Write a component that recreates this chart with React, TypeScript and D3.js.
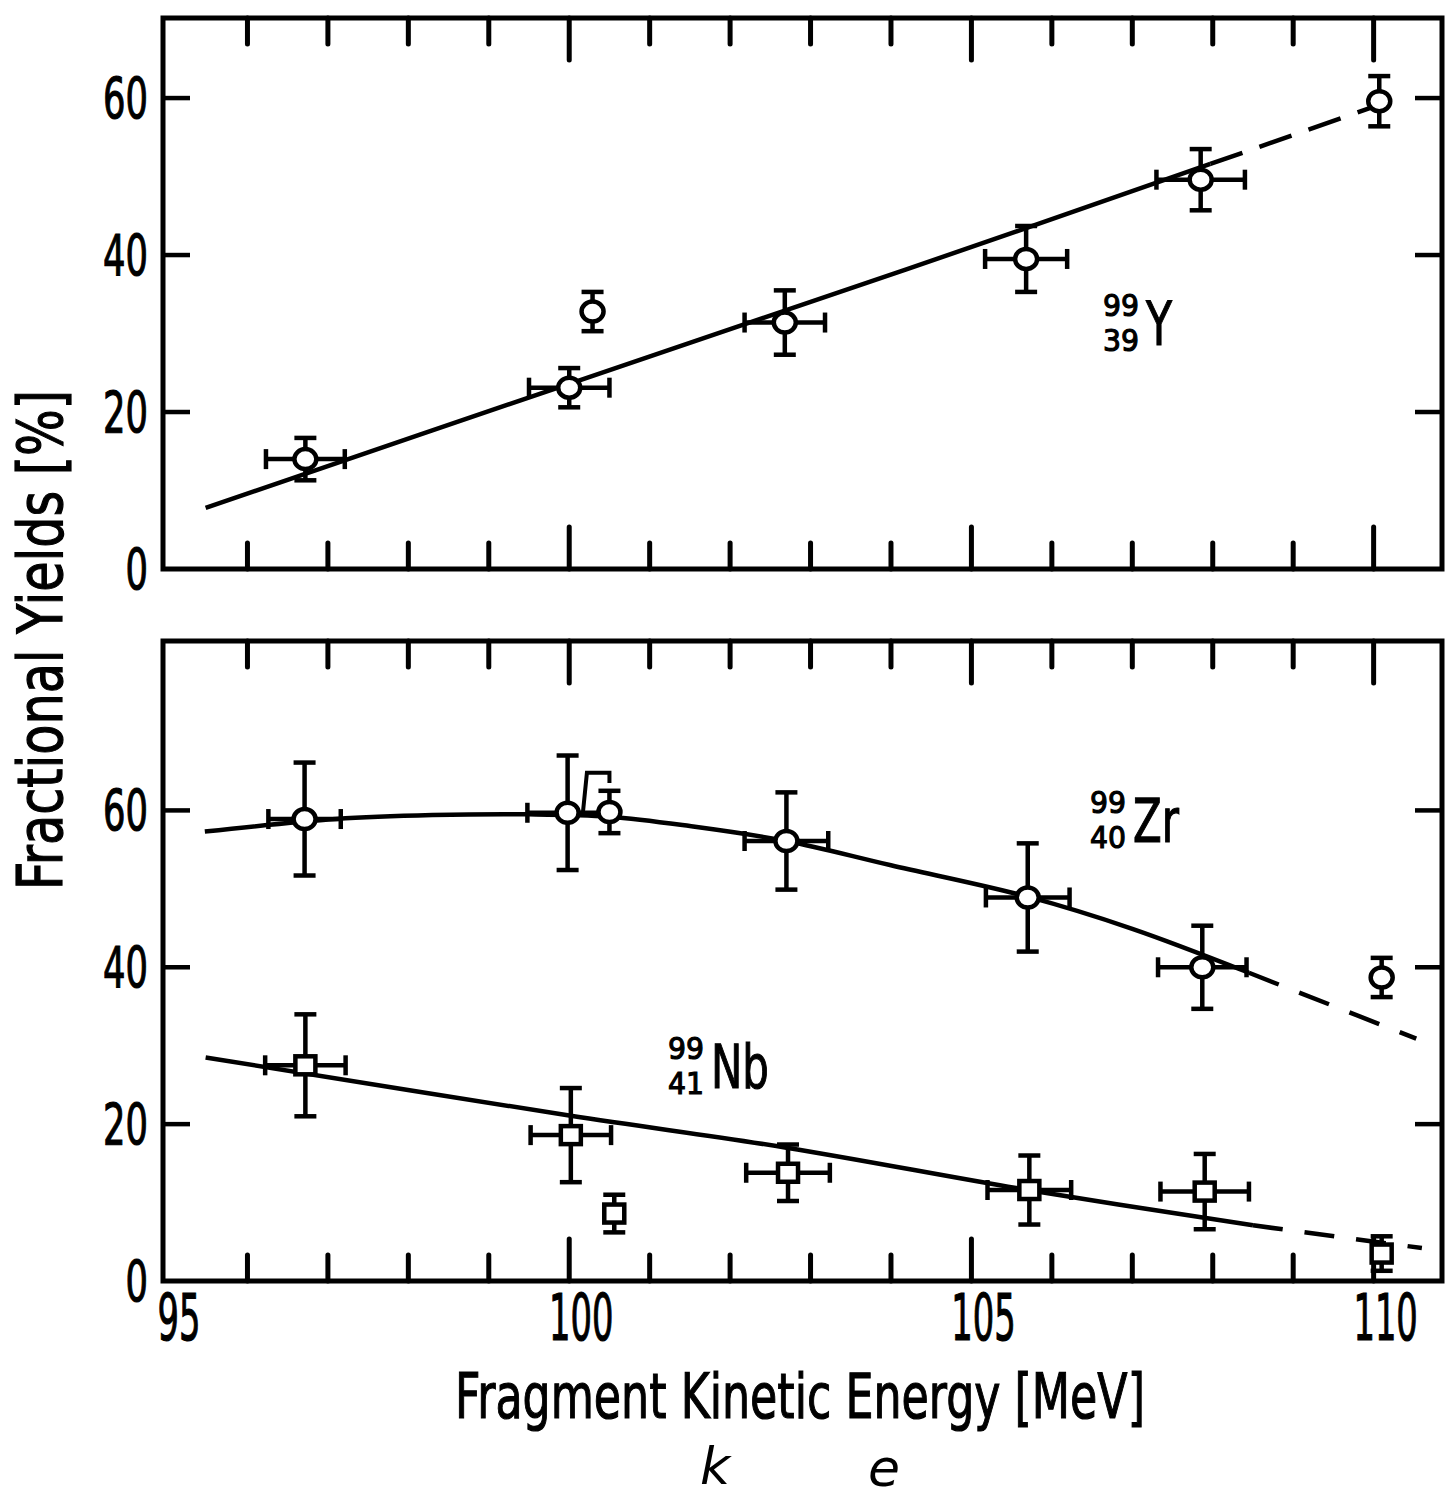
import React, { useEffect, useRef } from "react";
import * as d3 from "d3";

// Fragment kinetic energy [MeV] and fractional yields [%]
const yEnergy = [96.72, 100.0, 100.29, 102.68, 105.68, 107.85, 110.07];
const yYield = [14.0, 23.1, 32.8, 31.4, 39.5, 49.6, 59.6];
const yYieldErr = [2.7, 2.5, 2.5, 4.1, 4.2, 3.9, 3.2];
const yEnergyErr = [0.49, 0.5, 0, 0.5, 0.51, 0.55, 0];
const yFitSolid = [[95.48, 7.8], [100, 23.6], [104.2, 38.2], [107.97, 51.6]];
const yFitDashed = [[107.97, 51.6], [110.2, 59.6]];

const zrEnergy = [96.71, 99.98, 100.5, 102.7, 105.7, 107.87, 110.1];
const zrYield = [58.9, 59.7, 59.8, 56.1, 48.9, 40.0, 38.7];
const zrYieldErr = [7.2, 7.3, 2.7, 6.2, 6.9, 5.3, 2.5];
const zrEnergyErr = [0.45, 0.5, 0, 0.52, 0.52, 0.55, 0];
const zrFitSolid = [
  [95.47, 57.3], [97.1, 58.9], [98.3, 59.4], [99.5, 59.5], [100.5, 59.2],
  [101.5, 58.0], [102.7, 56.1], [104, 53.0], [105.7, 49.0], [107, 44.9], [108.45, 39.3],
];
const zrFitDashed = [[108.45, 39.3], [110.53, 30.9]];
// stray bracket drawn between the two points near 100 MeV
const zrBracket = [[100.17, 59.7], [100.22, 64.8], [100.5, 64.8], [100.5, 63.5]];

const nbEnergy = [96.72, 100.02, 100.56, 102.72, 105.72, 107.9, 110.1];
const nbYield = [27.5, 18.6, 8.6, 13.8, 11.6, 11.4, 3.5];
const nbYieldErr = [6.5, 6.0, 2.4, 3.6, 4.4, 4.8, 2.2];
const nbEnergyErr = [0.5, 0.5, 0, 0.52, 0.52, 0.55, 0];
const nbFitSolid = [[95.48, 28.5], [100, 21.1], [102.7, 17.0], [105.7, 11.6], [108.5, 7.1]];
const nbFitDashed = [[108.5, 7.1], [110.6, 4.2]];

const energyLabels = [95, 100, 105, 110];
const energyMajor = [100, 105, 110];
const energyMinor = [96, 97, 98, 99, 101, 102, 103, 104, 106, 107, 108, 109];
const yieldTicks = [20, 40, 60];
const yieldLabels = [0, 20, 40, 60];

const FONT = "'DejaVu Sans', sans-serif";

function App() {
  const ref = useRef(null);

  useEffect(() => {
    document.body.style.margin = "0";
    const svg = d3.select(ref.current);
    svg.selectAll("*").remove();

    const x = d3.scaleLinear().domain([94.95, 110.85]).range([163, 1442]);
    const yTop = d3.scaleLinear().domain([0, 70.2]).range([569, 18]);
    const yBot = d3.scaleLinear().domain([0, 81.6]).range([1281, 641]);

    /** Condensed lettering: squeeze a text horizontally to the wanted width. */
    function narrowText(parent, tx, ty, str, size, width, anchor = "start", rotate = 0) {
      const t = parent.append("text")
        .attr("font-family", FONT).attr("font-size", size)
        .attr("stroke", "#000").attr("stroke-width", 1.2)
        .attr("text-anchor", anchor)
        .text(str);
      const natural = t.node().getComputedTextLength();
      const sx = width / natural;
      t.attr("transform", "translate(" + tx + "," + ty + ") rotate(" + rotate + ") scale(" + sx + ",1)");
      return t;
    }

    // Frame, ticks and tick labels of one panel
    function drawPanel(y, showXLabels) {
      const g = svg.append("g");
      const [y0, y1] = y.range();
      const x0 = x.range()[0], x1 = x.range()[1];
      g.append("rect")
        .attr("x", x0).attr("y", y1)
        .attr("width", x1 - x0).attr("height", y0 - y1)
        .attr("fill", "none").attr("stroke", "#000").attr("stroke-width", 5);

      const ticks = energyMinor.map((v) => [v, 26]).concat(energyMajor.map((v) => [v, 42]));
      ticks.forEach(([v, len]) => {
        g.append("line")
          .attr("x1", x(v)).attr("x2", x(v))
          .attr("y1", y1).attr("y2", y1 + len)
          .attr("stroke", "#000").attr("stroke-width", 5).attr("stroke-linecap", "round");
        g.append("line")
          .attr("x1", x(v)).attr("x2", x(v))
          .attr("y1", y0).attr("y2", y0 - len)
          .attr("stroke", "#000").attr("stroke-width", 5).attr("stroke-linecap", "round");
      });

      yieldTicks.forEach((v) => {
        g.append("line")
          .attr("x1", x0).attr("x2", x0 + 27)
          .attr("y1", y(v)).attr("y2", y(v))
          .attr("stroke", "#000").attr("stroke-width", 4.5);
        g.append("line")
          .attr("x1", x1).attr("x2", x1 - 27)
          .attr("y1", y(v)).attr("y2", y(v))
          .attr("stroke", "#000").attr("stroke-width", 4.5);
      });

      yieldLabels.forEach((v) => {
        const s = String(v);
        narrowText(g, 148, y(v) + 21, s, 57, s.length * 22.5, "end");
      });

      if (showXLabels) {
        energyLabels.forEach((v) => {
          const s = String(v);
          narrowText(g, x(v) + 12, 1340, s, 64, s.length * 21.5, "middle");
        });
      }
    }

    // Fit curve through hand-read points
    function drawFit(y, solid, dashed, dash) {
      const line = d3.line().x((d) => x(d[0])).y((d) => y(d[1])).curve(d3.curveCatmullRom);
      svg.append("path").attr("d", line(solid))
        .attr("fill", "none").attr("stroke", "#000").attr("stroke-width", 4.5);
      svg.append("path").attr("d", line(dashed))
        .attr("fill", "none").attr("stroke", "#000").attr("stroke-width", 4.5)
        .attr("stroke-dasharray", dash);
    }

    // Data points with error bars; shape "circle" or "square"
    function drawPoints(y, ex, ey, exErr, eyErr, shape) {
      const g = svg.append("g").attr("stroke", "#000").attr("stroke-width", 4.5);
      ex.forEach((e, i) => {
        const cx = x(e), cy = y(ey[i]);
        const top = y(ey[i] + eyErr[i]), bot = y(ey[i] - eyErr[i]);
        g.append("line").attr("x1", cx).attr("x2", cx).attr("y1", top).attr("y2", bot);
        g.append("line").attr("x1", cx - 11).attr("x2", cx + 11).attr("y1", top).attr("y2", top);
        g.append("line").attr("x1", cx - 11).attr("x2", cx + 11).attr("y1", bot).attr("y2", bot);
        if (exErr[i] > 0) {
          const l = x(e - exErr[i]), r = x(e + exErr[i]);
          g.append("line").attr("x1", l).attr("x2", r).attr("y1", cy).attr("y2", cy);
          g.append("line").attr("x1", l).attr("x2", l).attr("y1", cy - 10).attr("y2", cy + 10);
          g.append("line").attr("x1", r).attr("x2", r).attr("y1", cy - 10).attr("y2", cy + 10);
        }
      });
      ex.forEach((e, i) => {
        const cx = x(e), cy = y(ey[i]);
        if (shape === "circle") {
          g.append("ellipse").attr("cx", cx).attr("cy", cy).attr("rx", 11).attr("ry", 10)
            .attr("fill", "#fff");
        } else {
          g.append("rect").attr("x", cx - 10).attr("y", cy - 9).attr("width", 20).attr("height", 18)
            .attr("fill", "#fff");
        }
      });
    }

    // Nuclide label: mass number over charge number, then the element symbol
    function isotope(xPos, baseline, mass, charge, symbol, symWidth) {
      narrowText(svg, xPos, baseline - 29, mass, 30, 36);
      narrowText(svg, xPos, baseline + 6, charge, 30, 36);
      narrowText(svg, xPos + 43, baseline, symbol, 60, symWidth);
    }

    // Top panel: 99Y
    drawPanel(yTop, false);
    drawFit(yTop, yFitSolid, yFitDashed, "34 18");
    drawPoints(yTop, yEnergy, yYield, yEnergyErr, yYieldErr, "circle");
    isotope(1103, 345, "99", "39", "Y", 26);

    // Bottom panel: 99Zr and 99Nb
    drawPanel(yBot, true);
    drawFit(yBot, zrFitSolid, zrFitDashed, "32 22");
    drawFit(yBot, nbFitSolid, nbFitDashed, "30 22");
    const bracket = d3.line().x((d) => x(d[0])).y((d) => yBot(d[1]));
    svg.append("path").attr("d", bracket(zrBracket))
      .attr("fill", "none").attr("stroke", "#000").attr("stroke-width", 4);
    drawPoints(yBot, zrEnergy, zrYield, zrEnergyErr, zrYieldErr, "circle");
    drawPoints(yBot, nbEnergy, nbYield, nbEnergyErr, nbYieldErr, "square");
    isotope(1090, 842, "99", "40", "Zr", 46);
    isotope(668, 1088, "99", "41", "Nb", 58);

    // Axis titles
    narrowText(svg, 455, 1418, "Fragment Kinetic Energy [MeV]", 62, 690);
    narrowText(svg, 62, 640, "Fractional Yields [%]", 62, 500, "middle", -90);

    // handwritten corrections under the title
    svg.append("text").attr("x", 700).attr("y", 1484)
      .attr("font-family", FONT).attr("font-style", "italic").attr("font-size", 52)
      .text("k");
    svg.append("text").attr("x", 868).attr("y", 1486)
      .attr("font-family", FONT).attr("font-style", "italic").attr("font-size", 52)
      .text("e");
  }, []);

  return <svg ref={ref} width={1453} height={1503} style={{ display: "block", background: "#fff" }} />;
}

export default App;
